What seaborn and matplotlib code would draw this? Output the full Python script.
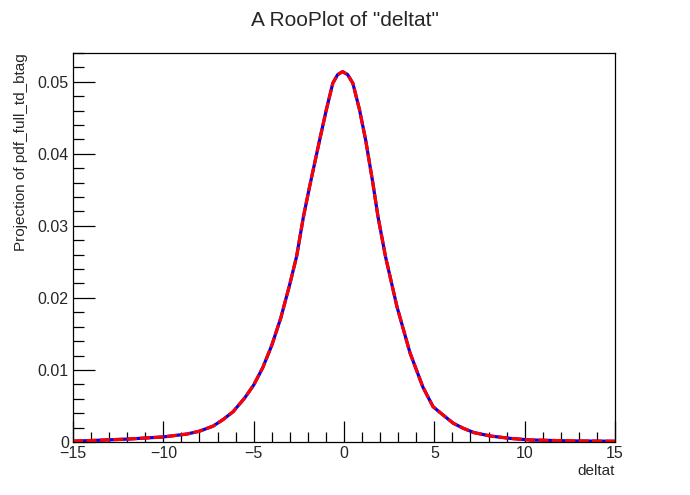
import matplotlib
matplotlib.use("Agg")
import matplotlib.pyplot as plt
import numpy as np
import pandas as pd
import seaborn as sns
from matplotlib.ticker import MultipleLocator


# Values (projection of the pdf on deltat)
deltat = [-15, -14, -12, -10, -8.7, -8, -7.25, -6.7, -6.14, -5.5, -5.0, -4.5,
          -4.0, -3.5, -3.0, -2.62, -2.25, -1.9, -1.35, -0.98, -0.62, -0.35,
          -0.08, 0.2, 0.49, 0.86, 1.2, 1.6, 1.88, 2.3, 2.93, 3.65, 4.37, 4.93,
          5.31, 6.05, 6.6, 7.2, 8.1, 9.2, 10.3, 12.5, 15]
projection = [0.00012, 0.0002, 0.0004, 0.0007, 0.0011, 0.0015, 0.0022, 0.0031,
              0.0042, 0.0061, 0.0079, 0.0103, 0.0134, 0.0172, 0.0219, 0.0258,
              0.0312, 0.0355, 0.0419, 0.0461, 0.0498, 0.0510, 0.0514, 0.0510,
              0.0498, 0.0461, 0.0419, 0.0359, 0.0313, 0.0257, 0.0188, 0.0124,
              0.0076, 0.0049, 0.0041, 0.0026, 0.0019, 0.0013, 0.00083, 0.0005,
              0.00028, 0.00015, 0.0001]

df = pd.DataFrame({"deltat": deltat, "proj": projection})

sns.set_style("ticks")
plt.rcParams['font.family'] = ['Liberation Sans', 'DejaVu Sans']

fig = plt.figure(figsize=(6.9, 4.95), dpi=100)
ax = fig.add_axes([0.1058, 0.1071, 0.7855, 0.7859])

# blue solid pdf curve, red dashed curve drawn on top
sns.lineplot(data=df, x="deltat", y="proj", ax=ax, color="#0000ee", linewidth=2.3)
sns.lineplot(data=df, x="deltat", y="proj", ax=ax, color="#ff0000", linewidth=2.3,
             linestyle=(0, (3.2, 1.0)))

ax.set_xlim(-15, 15)
ax.set_ylim(0, 0.054)
ax.xaxis.set_major_locator(MultipleLocator(5))
ax.xaxis.set_minor_locator(MultipleLocator(1))
ax.yaxis.set_major_locator(MultipleLocator(0.01))
ax.yaxis.set_minor_locator(MultipleLocator(0.002))
ax.yaxis.set_major_formatter(plt.FuncFormatter(lambda v, p: "0" if v == 0 else f"{v:.2f}"))

ax.tick_params(axis="both", which="both", direction="in", top=False, right=False,
               labelsize=11.5, width=0.9, color="black")
ax.tick_params(axis="x", which="major", length=15, pad=3)
ax.tick_params(axis="x", which="minor", length=7.5)
ax.tick_params(axis="y", which="major", length=16, pad=3)
ax.tick_params(axis="y", which="minor", length=8)
for s in ax.spines.values():
    s.set_linewidth(0.9)
    s.set_color("black")

ax.set_xlabel("deltat", loc="right", fontsize=11, labelpad=2)
ax.set_ylabel("Projection of pdf_full_td_btag", loc="top", fontsize=11, labelpad=7)
fig.suptitle('A RooPlot of "deltat"', fontsize=15, y=0.978)

fig.savefig("out.png", dpi=100)
